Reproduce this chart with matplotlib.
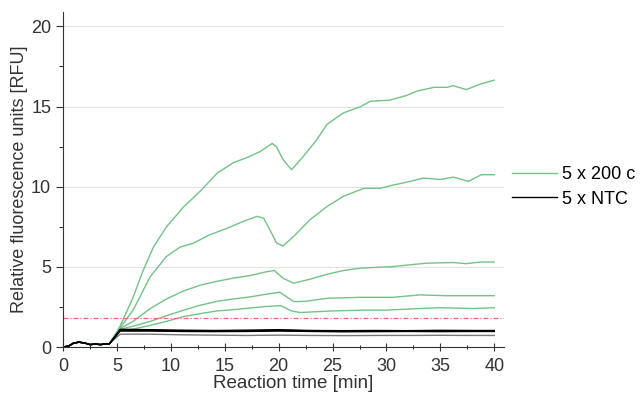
import matplotlib.pyplot as plt
from matplotlib.ticker import MultipleLocator

plt.rcParams['font.family'] = ['Liberation Sans', 'DejaVu Sans']

# baseline before amplification (shared by all wells)
base_t = [0, 0.5, 1.0, 1.5, 2.0, 2.5, 3.0, 3.5, 4.0, 4.3]
base_v = [0.0, 0.05, 0.25, 0.3, 0.25, 0.15, 0.18, 0.15, 0.2, 0.2]

# 5 x 200 copies (green)
a_t = [5.3, 6.5, 7.45, 8.4, 9.6, 11.2, 12.7, 14.3, 15.8, 17.0, 18.3, 19.4, 19.8, 20.4, 21.2,
       22.3, 23.5, 24.5, 26.0, 27.6, 28.5, 30.3, 31.9, 32.8, 34.4, 35.6, 36.2, 37.4, 38.7, 40]
a_v = [1.3, 3.1, 4.8, 6.25, 7.5, 8.75, 9.7, 10.85, 11.5, 11.8, 12.2, 12.7, 12.5, 11.7, 11.06,
       11.9, 12.9, 13.9, 14.6, 15.0, 15.33, 15.4, 15.7, 15.96, 16.2, 16.2, 16.3, 16.06, 16.4, 16.65]

b_t = [5.3, 6.5, 8.1, 9.6, 10.85, 12.1, 13.6, 15.2, 16.7, 18.0, 18.6, 19.2, 19.8, 20.4, 21.4,
       22.9, 24.5, 26.0, 27.9, 29.4, 30.6, 32.2, 33.4, 35.0, 36.2, 37.6, 38.8, 40]
b_v = [1.2, 2.3, 4.4, 5.65, 6.23, 6.48, 7.0, 7.4, 7.83, 8.15, 8.04, 7.3, 6.5, 6.3, 6.9,
       7.94, 8.77, 9.4, 9.9, 9.9, 10.1, 10.33, 10.54, 10.45, 10.6, 10.33, 10.75, 10.75]

c_t = [5.3, 6.5, 8.1, 9.6, 11.2, 12.7, 14.3, 15.8, 17.3, 18.9, 19.6, 20.4, 21.4, 22.9, 24.5,
       26.0, 27.6, 30.6, 33.7, 36.2, 37.4, 38.7, 40]
c_v = [1.15, 1.6, 2.4, 3.0, 3.5, 3.85, 4.1, 4.3, 4.45, 4.7, 4.77, 4.29, 3.98, 4.23, 4.54,
       4.77, 4.92, 5.02, 5.23, 5.27, 5.2, 5.3, 5.3]

d_t = [5.3, 6.5, 8.1, 9.6, 11.2, 12.7, 14.3, 15.8, 17.3, 18.9, 20.1, 21.4, 22.5, 24.5, 27.6,
       30.6, 33.1, 35.6, 40]
d_v = [1.1, 1.3, 1.6, 1.95, 2.3, 2.6, 2.85, 3.0, 3.12, 3.3, 3.42, 2.83, 2.85, 3.04, 3.1,
       3.1, 3.25, 3.2, 3.2]

e_t = [5.3, 6.5, 8.1, 9.6, 11.2, 12.7, 14.3, 15.8, 17.3, 18.9, 20.2, 21.2, 22, 25, 28,
       30, 33, 35, 38, 40]
e_v = [1.05, 1.12, 1.35, 1.6, 1.9, 2.08, 2.25, 2.33, 2.43, 2.53, 2.58, 2.25, 2.15, 2.25, 2.3,
       2.3, 2.4, 2.45, 2.4, 2.45]

# 5 x NTC (black)
ntc_t = [5.3, 8, 11, 14, 17, 20, 23, 26, 29, 32, 35, 38, 40]
ntc1 = [1.05, 1.05, 1.0, 1.0, 1.0, 1.05, 1.0, 0.98, 1.0, 1.0, 1.0, 1.0, 1.0]
ntc2 = [1.1, 1.08, 1.05, 1.03, 1.05, 1.08, 1.03, 1.02, 1.03, 1.02, 1.04, 1.03, 1.03]
ntc3 = [1.0, 1.0, 0.97, 0.96, 0.97, 1.0, 0.97, 0.95, 0.96, 0.97, 0.96, 0.97, 0.97]
ntc4 = [1.02, 1.02, 1.01, 0.99, 1.0, 1.02, 0.99, 0.98, 0.99, 0.99, 1.0, 0.99, 0.99]
ntc5 = [0.8, 0.8, 0.76, 0.74, 0.72, 0.74, 0.72, 0.71, 0.72, 0.72, 0.73, 0.72, 0.72]

threshold = 1.8

green = '#74c287'

fig = plt.figure(figsize=(6.41, 3.97), dpi=100)
ax = fig.add_axes([63 / 641, 1 - 347 / 397, (504 - 63) / 641, (347 - 12) / 397])

for t, v in [(a_t, a_v), (b_t, b_v), (c_t, c_v), (d_t, d_v), (e_t, e_v)]:
    ax.plot(base_t + t, base_v + v, color=green, lw=1.0)

ax.plot(base_t + ntc_t, base_v + ntc5, color='#777777', lw=1.0)
for v in [ntc1, ntc2, ntc3, ntc4]:
    ax.plot(base_t + ntc_t, base_v + v, color='black', lw=1.0)

ax.axhline(threshold, color='#ee6677', lw=0.9, ls=(0, (4, 1.5, 1, 1.5)))

ax.set_xlim(0, 40.9)
ax.set_ylim(0, 20.9)
ax.xaxis.set_major_locator(MultipleLocator(5))
ax.xaxis.set_minor_locator(MultipleLocator(2.5))
ax.yaxis.set_major_locator(MultipleLocator(5))
ax.yaxis.set_minor_locator(MultipleLocator(2.5))
ax.grid(axis='y', which='major', color='#e4e4e4', lw=0.8)
ax.set_axisbelow(True)
for s in ['top', 'right']:
    ax.spines[s].set_visible(False)
for s in ['left', 'bottom']:
    ax.spines[s].set_color('#333333')
ax.tick_params(axis='both', labelsize=13, colors='#333333')
ax.tick_params(axis='y', which='major', length=5, direction='out')
ax.tick_params(axis='y', which='minor', length=3, direction='out')
ax.tick_params(axis='x', which='major', length=6, direction='inout', pad=5)
ax.tick_params(axis='x', which='minor', length=3, direction='inout')

ax.set_xlabel('Reaction time [min]', fontsize=13.5, color='#333333')
ax.xaxis.set_label_coords((293 - 63) / 441, -0.085)
ax.set_ylabel('Relative fluorescence units [RFU]', fontsize=13, color='#333333', labelpad=2)

h1, = ax.plot([], [], color=green, lw=1.0)
h2, = ax.plot([], [], color='black', lw=1.0)
fig.legend([h1, h2], ['5 x 200 c', '5 x NTC'], loc='center left',
           bbox_to_anchor=(512 / 641, 1 - 187 / 397), frameon=False, fontsize=13,
           handlelength=2.5, handletextpad=0.25, borderpad=0, borderaxespad=0,
           labelspacing=0.4)

fig.savefig('out.png', dpi=100)
